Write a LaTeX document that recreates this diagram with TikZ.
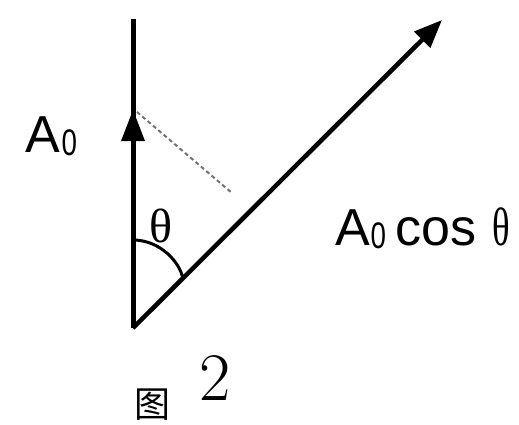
\documentclass[tikz,border=0pt]{standalone}
\usepackage{fontspec}
\usetikzlibrary{arrows.meta}
\newfontfamily\sansf{Liberation Sans}
\newfontfamily\seriff{Liberation Serif}
\newfontfamily\cjk{Noto Sans CJK SC}
\tikzset{
  vec/.style={line width=4.5pt},
  lbl/.style={inner sep=0pt, outer sep=0pt},
}
\newcommand{\subz}[1]{{\fontsize{#1}{#1}\selectfont\scalebox{0.75}[1]{0}}}
\begin{document}
\begin{tikzpicture}[x=1pt,y=-1pt]
\useasboundingbox (0,0) rectangle (519,424);
\coordinate (O) at (133,328);
\coordinate (T) at (133,19);
\coordinate (D) at (442,20);
\coordinate (P) at (137,112);
\coordinate (Q) at (232,193);
\coordinate (a1) at (133,240);
\coordinate (a2) at (183,279);
% vertical vector
\draw[line width=5pt] (O) -- (T);
\fill (133,110) -- (121,141) -- (145,141) -- cycle;
% diagonal vector
\draw[vec, -{Triangle[length=28pt,width=22pt]}] (O) -- (D);
% projection
\draw[black!55, line width=2pt, dash pattern=on 4pt off 3pt] (P) -- (Q);
% angle arc
\draw[line width=3pt] (a1) .. controls (160,240) and (180,262) .. (a2);
% labels
\node[lbl, font=\seriff\fontsize{48}{48}\selectfont] (th) at (161,226) {θ};
\node[lbl, anchor=base west, font=\sansf\fontsize{52}{52}\selectfont] (A) at (25,152) {A\kern2pt\raisebox{-3pt}{\subz{37}}};
\node[lbl, anchor=base west, font=\sansf\fontsize{52}{52}\selectfont] (Ac) at (335,245) {A\kern1pt\raisebox{-3pt}{\subz{37}}\kern9pt{\fontsize{52}{52}\selectfont cos}\kern16pt{\seriff\fontsize{54}{54}\selectfont\scalebox{0.68}[1]{θ}}};
\node[lbl, font=\cjk\fontsize{36}{36}\selectfont] (fig) at (152,405) {图};
\node[lbl, anchor=base, font=\fontsize{68}{68}\selectfont] (num) at (215,400) {2};
\end{tikzpicture}
\end{document}
